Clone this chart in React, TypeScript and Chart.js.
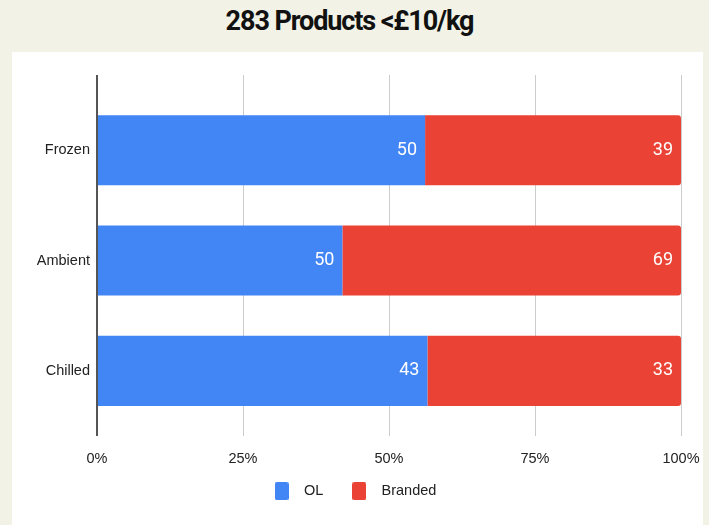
import React, { useEffect, useRef } from "react";
import { Chart, registerables } from "chart.js";

Chart.register(...registerables);

const TITLE = "283 Products <£10/kg";
const CATEGORIES = ["Frozen", "Ambient", "Chilled"];
const OL_VALUES = [50, 50, 43];
const BRANDED_VALUES = [39, 69, 33];
const SERIES_NAMES = ["OL", "Branded"];
const SERIES_COLORS = ["#4285f4", "#ea4335"];
const X_TICKS = [0, 25, 50, 75, 100];

const LABEL_FONT = { family: "Liberation Sans", size: 14.5 };

function makeSwatch(color: string) {
  const c = document.createElement("canvas");
  c.width = 14;
  c.height = 18;
  const g = c.getContext("2d")!;
  g.fillStyle = color;
  g.beginPath();
  (g as any).roundRect ? (g as any).roundRect(0, 0, 14, 18, 2) : g.rect(0, 0, 14, 18);
  g.fill();
  return c;
}

const valueLabels = {
  id: "valueLabels",
  afterDatasetsDraw(chart: any) {
    const ctx = chart.ctx;
    ctx.save();
    ctx.font = "18px Roboto";
    ctx.fillStyle = "#ffffff";
    ctx.textAlign = "right";
    ctx.textBaseline = "middle";
    chart.data.datasets.forEach((ds: any, di: number) => {
      const meta = chart.getDatasetMeta(di);
      meta.data.forEach((el: any, i: number) => {
        ctx.fillText(String(ds.raw[i]), el.x - 8, el.y);
      });
    });
    ctx.restore();
  },
};

export default function App() {
  const ref = useRef<HTMLCanvasElement>(null);
  useEffect(() => {
    document.body.style.margin = "0";
    const totals = OL_VALUES.map((v, i) => v + BRANDED_VALUES[i]);
    const pct = (arr: number[]) => arr.map((v, i) => ({ x: (v / totals[i]) * 100, y: i }));
    const swatches = SERIES_COLORS.map(makeSwatch);
    const chart = new Chart(ref.current!, {
      type: "bar",
      data: {
        datasets: [
          {
            label: SERIES_NAMES[0],
            data: pct(OL_VALUES),
            backgroundColor: SERIES_COLORS[0],
            raw: OL_VALUES,
          } as any,
          {
            label: SERIES_NAMES[1],
            data: pct(BRANDED_VALUES),
            backgroundColor: SERIES_COLORS[1],
            raw: BRANDED_VALUES,
            borderRadius: { topRight: 3, bottomRight: 3, topLeft: 0, bottomLeft: 0 },
            borderSkipped: false,
          } as any,
        ],
      },
      options: {
        indexAxis: "y",
        animation: false,
        responsive: false,
        devicePixelRatio: 1,
        layout: { padding: { top: 23, right: 22, bottom: 16.5, left: 10 } },
        datasets: { bar: { barPercentage: 0.636, categoryPercentage: 1 } },
        scales: {
          x: {
            type: "linear",
            stacked: true,
            min: 0,
            max: 100,
            afterBuildTicks: (s: any) => {
              s.ticks = X_TICKS.map((v) => ({ value: v }));
            },
            afterFit: (s: any) => {
              s.height = 27;
              s.paddingLeft = 0;
              s.paddingRight = 0;
            },
            border: { display: false },
            grid: {
              drawTicks: false,
              color: (c: any) => (c.tick && c.tick.value === 0 ? "#555555" : "#cccccc"),
              lineWidth: (c: any) => (c.tick && c.tick.value === 0 ? 2 : 1),
            },
            ticks: {
              padding: 14,
              color: "#222222",
              font: LABEL_FONT,
              callback: (v: any) => v + "%",
            },
          },
          y: {
            type: "linear",
            stacked: true,
            reverse: true,
            offset: false,
            min: -0.682,
            max: 2.591,
            afterBuildTicks: (s: any) => {
              s.ticks = CATEGORIES.map((_, i) => ({ value: i }));
            },
            afterFit: (s: any) => {
              s.width = 75;
            },
            border: { display: false },
            grid: { display: false, drawTicks: false, offset: false },
            ticks: {
              padding: 7,
              color: "#222222",
              font: LABEL_FONT,
              callback: (v: any) => CATEGORIES[v] ?? "",
            },
          },
        },
        plugins: {
          legend: {
            position: "bottom",
            labels: {
              usePointStyle: true,
              pointStyleWidth: 30,
              padding: 21,
              color: "#222222",
              font: LABEL_FONT,
              generateLabels: (c: any) =>
                c.data.datasets.map((ds: any, i: number) => ({
                  text: ds.label,
                  fillStyle: SERIES_COLORS[i],
                  strokeStyle: SERIES_COLORS[i],
                  lineWidth: 0,
                  pointStyle: swatches[i],
                  hidden: false,
                  datasetIndex: i,
                  fontColor: "#222222",
                })),
            },
          },
          tooltip: { enabled: false },
          title: { display: false },
        },
      } as any,
      plugins: [valueLabels],
    });
    return () => chart.destroy();
  }, []);

  return (
    <div
      style={{
        position: "fixed",
        left: 0,
        top: 0,
        width: 709,
        height: 525,
        background: "#f2f3e6",
        overflow: "hidden",
      }}
    >
      <div
        style={{
          position: "absolute",
          left: 0,
          top: 5,
          width: 699,
          paddingRight: 10,
          textAlign: "center",
          fontFamily: "Roboto",
          fontWeight: 700,
          fontSize: 27,
          letterSpacing: -1.1,
          lineHeight: "normal",
          color: "#111111",
        }}
      >
        {TITLE}
      </div>
      <div
        style={{
          position: "absolute",
          left: 12,
          top: 52,
          width: 691,
          height: 473,
          background: "#ffffff",
        }}
      >
        <canvas ref={ref} width={691} height={473} style={{ display: "block" }} />
      </div>
    </div>
  );
}
